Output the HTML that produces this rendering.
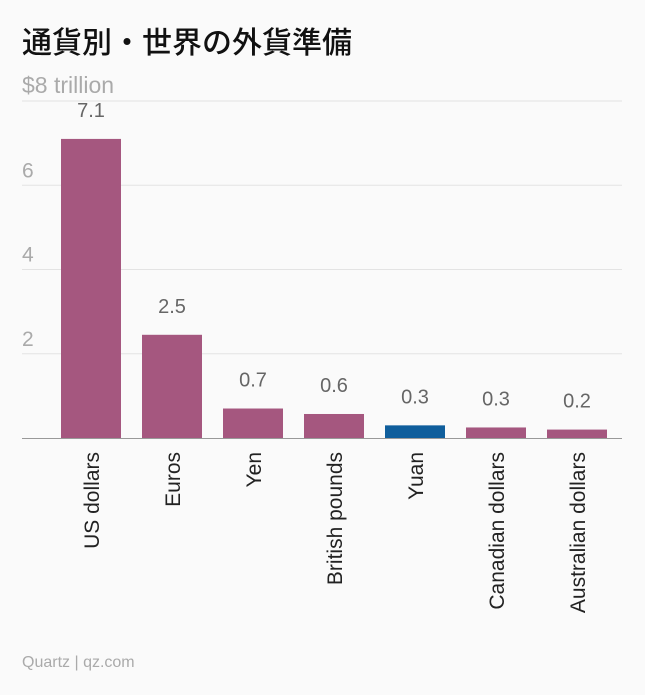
<!DOCTYPE html>
<html><head><meta charset="utf-8">
<style>
body{margin:0;background:#fafafa;font-family:"Liberation Sans","Noto Sans CJK JP",sans-serif;}
#wrap{position:relative;width:645px;height:695px;overflow:hidden;}
</style></head>
<body>
<div id="wrap">
<svg id="chart" width="645" height="695">
<text x="22" y="53" font-size="30" font-weight="500" fill="#111" font-family="'Liberation Sans','Noto Sans CJK JP',sans-serif">通貨別・世界の外貨準備</text>
<text x="22" y="93" font-size="23" fill="#aaa">$8 trillion</text>
<text x="22" y="667" font-size="16" fill="#aaa">Quartz | qz.com</text>
<g id="grid"></g><g id="bars"></g>
</svg>
</div>
<script>
const categories=["US dollars","Euros","Yen","British pounds","Yuan","Canadian dollars","Australian dollars"];
const values=[7.1,2.45,0.7,0.57,0.3,0.25,0.2];
const highlight=[false,false,false,false,true,false,false];
const ticks=[2,4,6,8];
const NS="http://www.w3.org/2000/svg";
const y0=438,yTop=101,maxV=8,x0=61,step=81,bw=60;
function y(v){return y0-(v/maxV)*(y0-yTop);}
function x(i){return x0+i*step;}
const grid=document.getElementById('grid'),bars=document.getElementById('bars');
ticks.forEach(t=>{
 const l=document.createElementNS(NS,'line');
 
 
 l.setAttribute('x1',22);l.setAttribute('x2',622);l.setAttribute('y1',y(t));l.setAttribute('y2',y(t));
 l.setAttribute('stroke','#e3e3e3');grid.appendChild(l);
 if(t<maxV){const tx=document.createElementNS(NS,'text');
 
 
 tx.setAttribute('x',22);tx.setAttribute('y',y(t)-8);tx.setAttribute('font-size','21');tx.setAttribute('fill','#aaa');
 tx.textContent=t;grid.appendChild(tx);}
});
categories.forEach((c,i)=>{
 const r=document.createElementNS(NS,'rect');
 
 
 r.setAttribute('x',x(i));r.setAttribute('width',bw);r.setAttribute('y',y(values[i]));r.setAttribute('height',y0-y(values[i]));
 r.setAttribute('fill',highlight[i]?'#0f5e9c':'#a5577f');bars.appendChild(r);
 const v=document.createElementNS(NS,'text');
 
 
 v.setAttribute('x',x(i)+bw/2);v.setAttribute('y',y(values[i])-22);v.setAttribute('text-anchor','middle');
 v.setAttribute('font-size','20');v.setAttribute('fill','#666');v.textContent=values[i].toFixed(1);bars.appendChild(v);
 const lb=document.createElementNS(NS,'text');
 
 
 const cx=x(i)+bw/2+8,cy=452;
 lb.setAttribute('transform','translate('+cx+','+cy+') rotate(-90)');
 lb.setAttribute('text-anchor','end');lb.setAttribute('font-size','21');lb.setAttribute('fill','#222');
 lb.textContent=c;bars.appendChild(lb);
});
const ax=document.createElementNS(NS,'line');


ax.setAttribute('x1',22);ax.setAttribute('x2',622);ax.setAttribute('y1',y0+0.5);ax.setAttribute('y2',y0+0.5);ax.setAttribute('stroke','#999');
bars.appendChild(ax);
</script>
</body></html>
